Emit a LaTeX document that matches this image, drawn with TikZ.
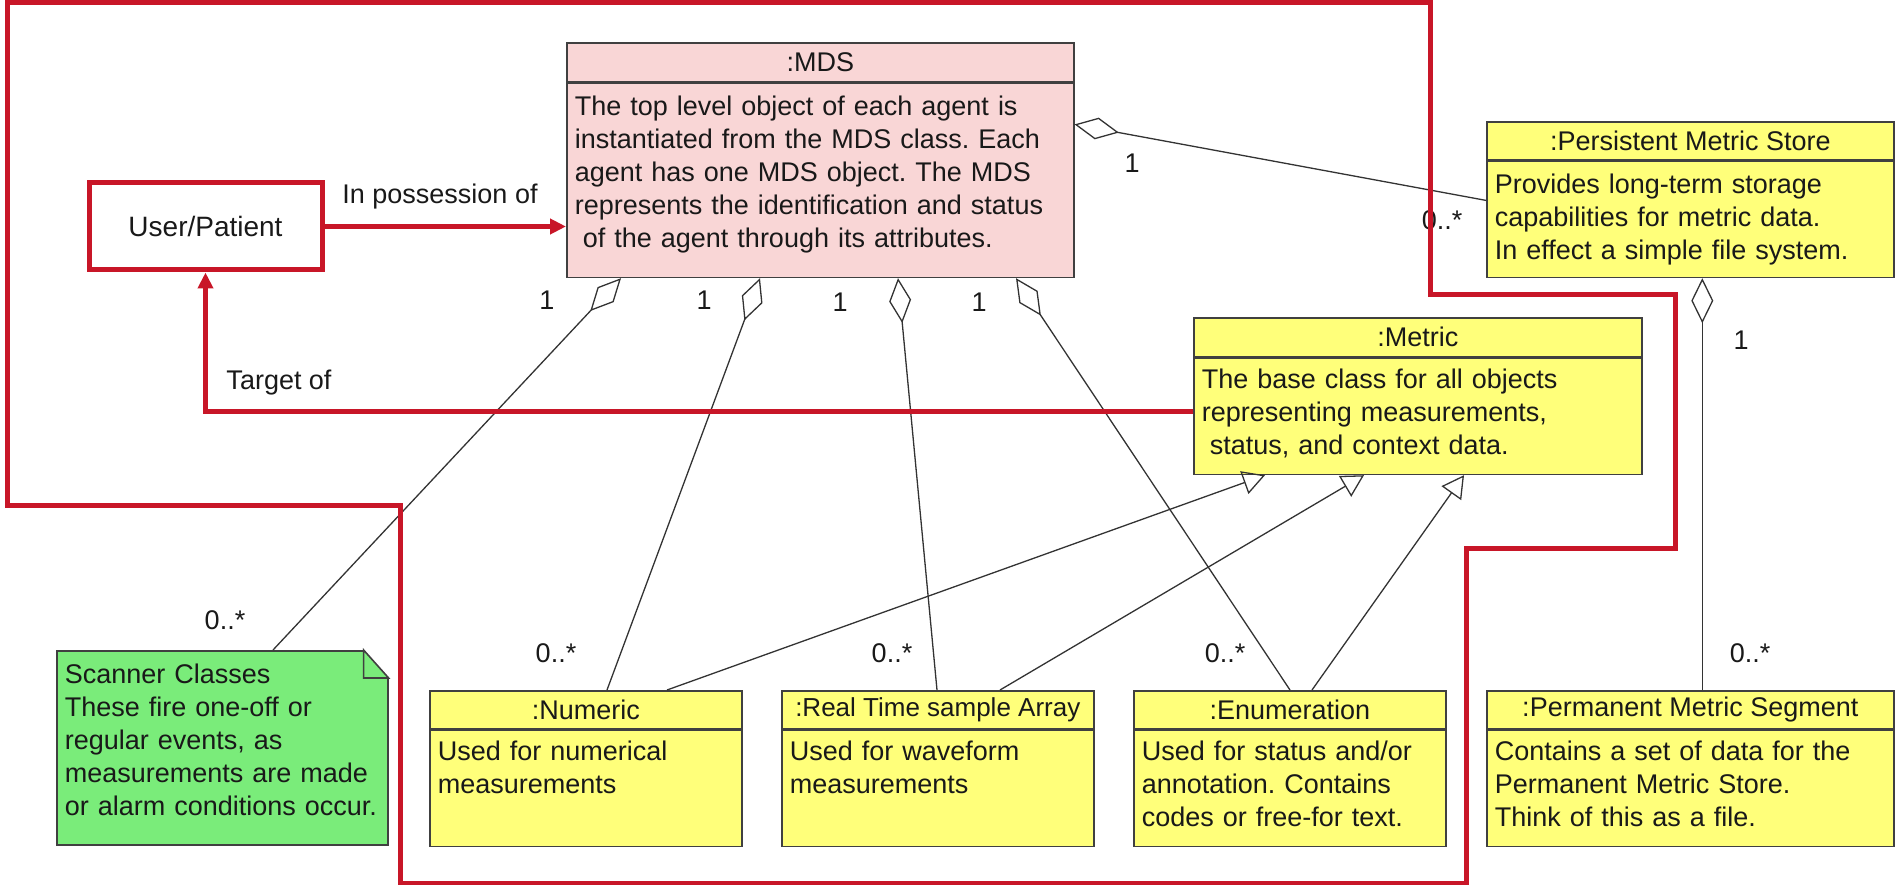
\documentclass[tikz,border=0pt]{standalone}
\usepackage{fontspec}
\setmainfont{Liberation Sans}
\usetikzlibrary{arrows.meta,calc}
\frenchspacing

\definecolor{mdspink}{RGB}{249,214,214}
\definecolor{classyellow}{RGB}{255,255,122}
\definecolor{notegreen}{RGB}{122,236,122}
\definecolor{framered}{RGB}{200,22,40}

\tikzset{
  classhead/.style={draw=black!75, line width=1.6pt, anchor=north west, minimum height=38pt, inner sep=0pt},
  classbody/.style={draw=black!75, line width=1.6pt, anchor=north west, inner xsep=8pt, inner ysep=0pt, align=left, minimum height=116pt},
  textlift/.style={execute at end node={\par\vspace{#1}}},
  mult/.style={inner sep=0pt},
  assoc/.style={draw=black!80, line width=1.3pt},
  aggr/.style={assoc, -{Diamond[open, length=45pt, width=22pt]}},
  gener/.style={assoc, -{Triangle[open, length=22pt, width=24pt]}},
  owner/.style={draw=framered, line width=5pt, -{Triangle[length=16pt, width=15pt]}},
}

\begin{document}
\begin{tikzpicture}[x=1pt, y=-1pt, font=\fontsize{27}{33}\selectfont,
  every node/.append style={text=black!90}]
\useasboundingbox (0,0) rectangle (1895,885);

% the MDS object
\node[classhead, fill=mdspink, minimum width=507pt, minimum height=39pt] (mds) at (566,42) {:MDS};
\node[classbody, fill=mdspink, text width=491pt, minimum height=194pt, textlift=12pt] (mdsbody) at (mds.south west)
  {The top level object of each agent is\\ instantiated from the MDS class. Each\\ agent has one MDS object. The MDS\\ represents the identification and status\\ \hspace*{.3em}of the agent through its attributes.};

% persistent store and its segments
\node[classhead, fill=classyellow, minimum width=407pt] (store) at (1486,121) {:Persistent Metric Store};
\node[classbody, fill=classyellow, text width=391pt] (storebody) at (store.south west)
  {Provides long-term storage\\ capabilities for metric data.\\ In effect a simple file system.};
\node[classhead, fill=classyellow, minimum width=407pt] (segment) at (1486,690) {:Permanent Metric Segment};
\node[classbody, fill=classyellow, text width=391pt, textlift=10pt] (segmentbody) at (segment.south west)
  {Contains a set of data for the\\ Permanent Metric Store.\\ Think of this as a file.};

% metric base class
\node[classhead, fill=classyellow, minimum width=448pt, minimum height=39pt] (metric) at (1193,317) {:Metric};
\node[classbody, fill=classyellow, text width=432pt, textlift=6pt] (metricbody) at (metric.south west)
  {The base class for all objects\\ representing measurements,\\ \hspace*{.3em}status, and context data.};

% derived metrics
\node[classhead, fill=classyellow, minimum width=312pt] (numeric) at (429,690) {:Numeric};
\node[classbody, fill=classyellow, text width=296pt, textlift=10pt] (numericbody) at (numeric.south west)
  {Used for numerical\\ measurements\\ \mbox{}};
\node[classhead, fill=classyellow, minimum width=312pt] (rtsa) at (781,690)
  {\fontsize{26}{33}\selectfont:Real Time sample Array};
\node[classbody, fill=classyellow, text width=296pt, textlift=10pt] (rtsabody) at (rtsa.south west)
  {Used for waveform\\ measurements\\ \mbox{}};
\node[classhead, fill=classyellow, minimum width=312pt] (enum) at (1133,690) {:Enumeration};
\node[classbody, fill=classyellow, text width=296pt, textlift=10pt] (enumbody) at (enum.south west)
  {Used for status and/or\\ annotation. Contains\\ codes or free-for text.};

% scanner note with folded corner
\node[draw=black!75, line width=1.6pt, fill=notegreen, anchor=north west, inner xsep=8pt, inner ysep=0pt,
  text width=315pt, minimum height=194pt, align=left, textlift=16pt] (scanner) at (56,650)
  {Scanner Classes\\ These fire one-off or\\ regular events, as\\ measurements are made\\ or alarm conditions occur.};
\fill[white] ([xshift=-25pt]scanner.north east) -- ([xshift=-25pt, yshift=3pt]scanner.north east)
  -- ([shift={(3pt,3pt)}]scanner.north east) -- ([shift={(3pt,-28pt)}]scanner.north east)
  -- ([yshift=-28pt]scanner.north east) -- cycle;
\draw[black!75, line width=1.6pt] ([xshift=-25pt]scanner.north east) -- ([yshift=-28pt]scanner.north east)
  -- ([shift={(-25pt,-28pt)}]scanner.north east) -- cycle;

% the user
\node[draw=framered, line width=5pt, minimum width=233pt, minimum height=87pt,
  font=\fontsize{28}{33}\selectfont] (user) at (205.5,226.5) {User/Patient};

% aggregations
\draw[aggr] ([xshift=217pt]scanner.north west) -- ([xshift=55pt]mdsbody.south west);
\draw[aggr] ([xshift=178pt]numeric.north west) -- ([xshift=194pt]mdsbody.south west);
\draw[aggr] ([xshift=156pt]rtsa.north west) -- ([xshift=332pt]mdsbody.south west);
\draw[aggr] ([xshift=157pt]enum.north west) -- ([xshift=450pt]mdsbody.south west);
\draw[aggr] ([yshift=19pt]storebody.west) -- ([yshift=56pt]mdsbody.east);
\draw[aggr] ([xshift=12pt]segment.north) -- ([xshift=12pt]storebody.south);

% generalisations
\draw[gener] ([xshift=238pt]numeric.north west) -- ([xshift=72pt]metricbody.south west);
\draw[gener] ([xshift=219pt]rtsa.north west) -- ([xshift=171pt]metricbody.south west);
\draw[gener] ([xshift=179pt]enum.north west) -- ([xshift=271pt]metricbody.south west);

% multiplicities
\foreach \t/\x/\y [count=\i] in {1/547/300, 1/704/300, 1/840/302, 1/979/302, 1/1132/163, 1/1741/340,
  {0..*}/225/620, {0..*}/556/653, {0..*}/892/653, {0..*}/1225/653, {0..*}/1750/653, {0..*}/1442/220}
  \node[mult] (mult\i) at (\x,\y) {\t};

% ownership links
\draw[owner] (user.east) -- (user.east -| mdsbody.west);
\draw[owner] ([yshift=5pt]metricbody.west) -| (user.south);
\node (possess) at (440,197) {In possession of};
\node (target) at (279,383) {Target of};

% boundary
\draw[framered, line width=5pt, line join=miter] (7,3) -- (1430,3) -- (1430,295) -- (1675,295)
  -- (1675,548) -- (1466,548) -- (1466,883) -- (400,883) -- (400,505) -- (7,505) -- cycle;
\end{tikzpicture}
\end{document}
